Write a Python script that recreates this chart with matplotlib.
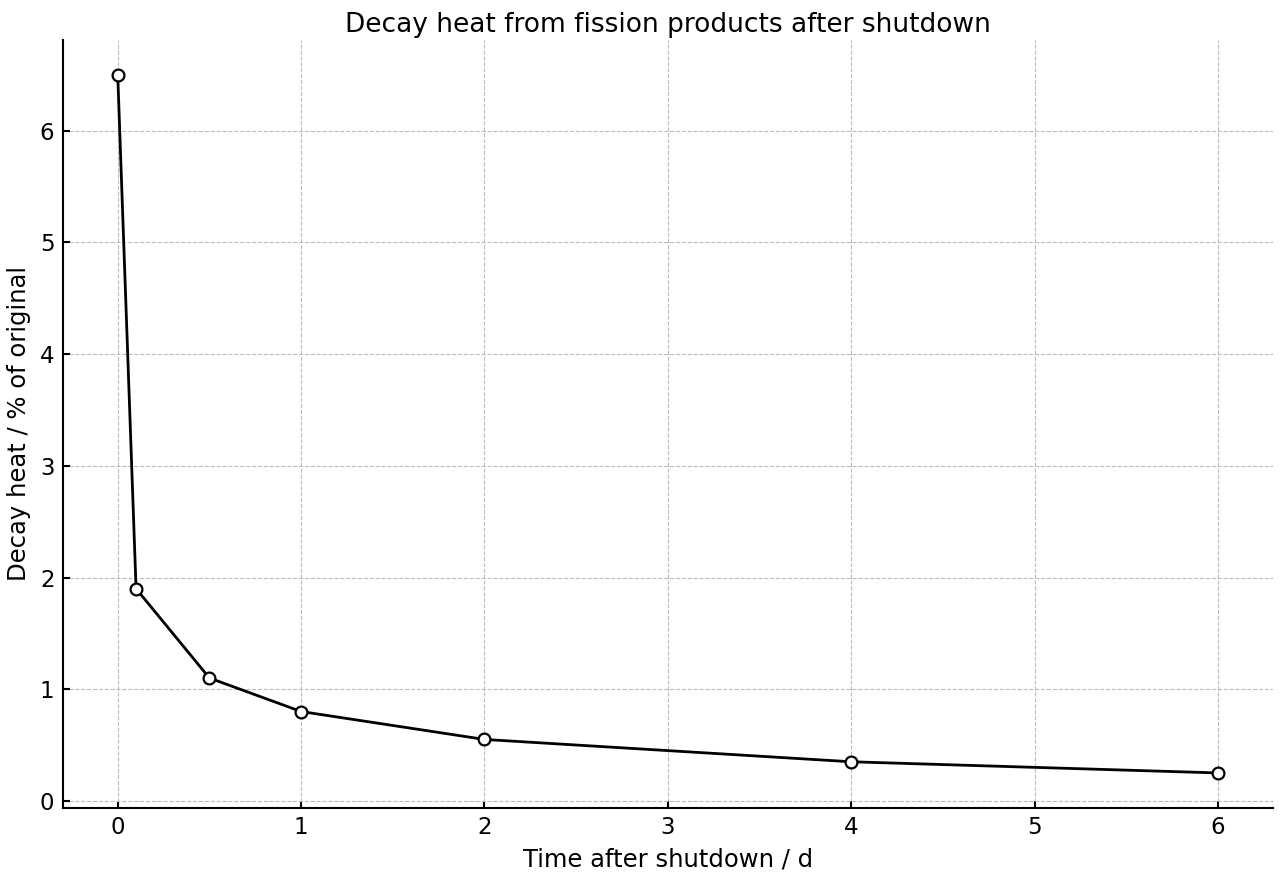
import matplotlib
matplotlib.use("Agg")
import matplotlib.pyplot as plt

# decay heat after shutdown
time_d = [0, 0.1, 0.5, 1, 2, 4, 6]
heat_pct = [6.5, 1.9, 1.1, 0.8, 0.55, 0.35, 0.25]

fig, ax = plt.subplots(figsize=(12.8, 8.8), dpi=100)
fig.subplots_adjust(left=0.049, right=0.9945, bottom=0.082, top=0.9545)

ax.plot(time_d, heat_pct, color="black", linewidth=2, marker="o",
        markersize=8.5, markerfacecolor="white", markeredgecolor="black",
        markeredgewidth=1.6, zorder=3)

ax.set_title("Decay heat from fission products after shutdown", fontsize=19, pad=6)
ax.set_xlabel("Time after shutdown / d", fontsize=17.5, labelpad=6)
ax.set_ylabel("Decay heat / % of original", fontsize=17.5, labelpad=6)

ax.grid(True, linestyle="--", color="#bbbbbb", linewidth=0.8)
ax.tick_params(direction="in", labelsize=16.5, length=5, width=1.5, pad=6)
ax.spines["top"].set_visible(False)
ax.spines["right"].set_visible(False)
ax.spines["left"].set_linewidth(1.5)
ax.spines["bottom"].set_linewidth(1.5)

fig.savefig("out.png", dpi=100)
